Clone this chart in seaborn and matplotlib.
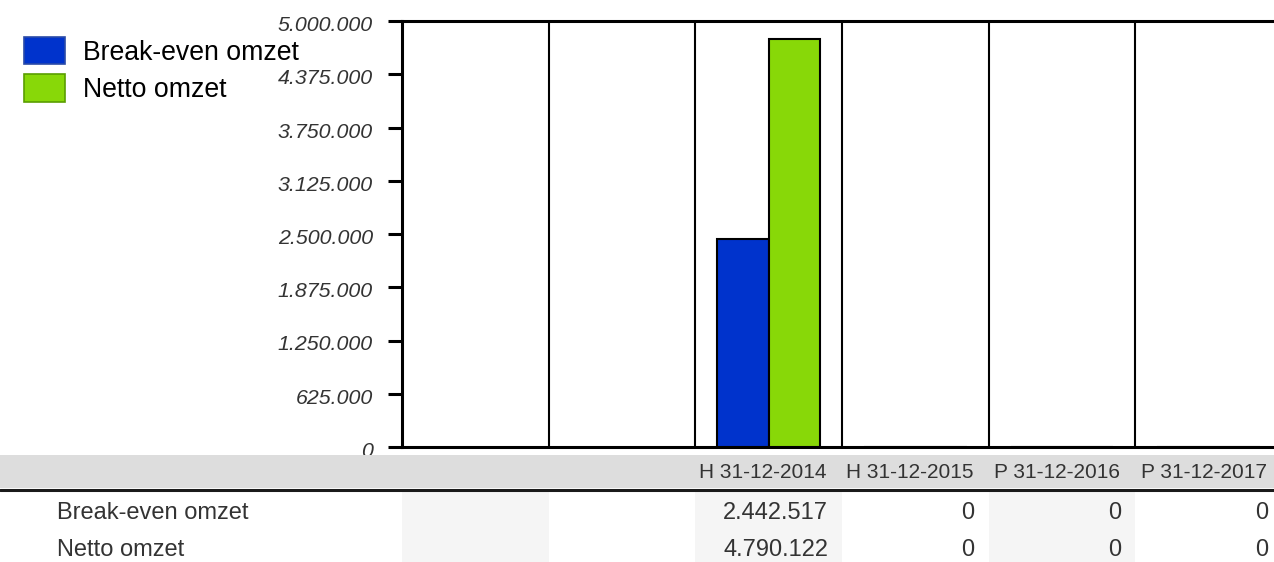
import numpy as np
import pandas as pd
import matplotlib
matplotlib.use("Agg")
import matplotlib.pyplot as plt
from matplotlib.patches import Rectangle
from matplotlib.lines import Line2D
import matplotlib.transforms as mtransforms
import seaborn as sns

# ---- data ----
categories = ["", " ", "H 31-12-2014", "H 31-12-2015", "P 31-12-2016", "P 31-12-2017"]
series_names = ["Break-even omzet", "Netto omzet"]
break_even = [np.nan, np.nan, 2442517, 0, 0, 0]
netto_omzet = [np.nan, np.nan, 4790122, 0, 0, 0]
y_ticks = [0, 625000, 1250000, 1875000, 2500000, 3125000, 3750000, 4375000, 5000000]
colors = ["#0033cc", "#88d808"]
legend_edges = ["#2a4aa8", "#5a9e00"]

def nl(v):
    return f"{v:,.0f}".replace(",", ".")

df = pd.DataFrame({
    "cat": categories * 2,
    "serie": [series_names[0]] * len(categories) + [series_names[1]] * len(categories),
    "val": break_even + netto_omzet,
})

sns.set_style("white")
plt.rcParams["font.family"] = ["Liberation Sans", "DejaVu Sans"]

W, H = 1274, 562
fig = plt.figure(figsize=(W / 100, H / 100), dpi=100)
fx = lambda px: px / W
fy = lambda py: 1 - py / H

ax = fig.add_axes([fx(402), fy(447), 880 / W, 426 / H])
sns.barplot(data=df.dropna(), x="cat", y="val", hue="serie", order=categories,
            hue_order=series_names, palette=colors, saturation=1, width=0.7,
            edgecolor="black", linewidth=1.5, ax=ax, legend=True, zorder=3)

ax.set_xlim(-0.5, len(categories) - 0.5)
ax.set_ylim(0, 5000000)
ax.set_yticks(y_ticks)
ax.set_yticklabels([nl(v) for v in y_ticks], fontstyle="italic", color="#333333", fontsize=15.4)
ax.tick_params(axis="y", length=10, width=2.2, color="black", pad=11, left=True)
ax.tick_params(axis="x", bottom=False, labelbottom=False)
shift = mtransforms.ScaledTranslation(0, -2.5 / 100, fig.dpi_scale_trans)
for lab in ax.get_yticklabels():
    lab.set_transform(lab.get_transform() + shift)
ax.set_xlabel("")
ax.set_ylabel("")
for s in ["left", "top", "bottom"]:
    ax.spines[s].set_visible(True)
    ax.spines[s].set_color("black")
    ax.spines[s].set_linewidth(2.2)
ax.spines["right"].set_visible(False)
for i in range(1, len(categories) + 1):
    ax.axvline(i - 0.5, color="black", lw=1.5, zorder=2)

# legend
leg = ax.legend(loc="upper left", bbox_to_anchor=(fx(24), fy(37)), bbox_transform=fig.transFigure,
                frameon=False, fontsize=19.2, handlelength=1.55, handleheight=1.2,
                handletextpad=0.66, labelspacing=0.32, borderaxespad=0, borderpad=0)
for h, ec in zip(leg.legend_handles, legend_edges):
    h.set_edgecolor(ec)
    h.set_linewidth(1.2)
for t in leg.get_texts():
    t.set_color("black")

# ---- table below ----
blend = mtransforms.blended_transform_factory(ax.transData, fig.transFigure)
for i in range(len(categories)):
    if i % 2 == 0:
        fig.add_artist(Rectangle((i - 0.5, fy(562)), 1, fy(491) - fy(562), transform=blend,
                                 facecolor="#f5f5f5", edgecolor="none", zorder=0.5))
fig.add_artist(Rectangle((0, fy(488)), 1, fy(455) - fy(488), transform=fig.transFigure,
                         facecolor="#dddddd", edgecolor="none", zorder=1))
fig.add_artist(Line2D([0, 1], [fy(489.5), fy(489.5)], transform=fig.transFigure,
                      color="#1a1a1a", lw=2.2, zorder=1.1))

for i, c in enumerate(categories):
    fig.text(i + 0.5 - 0.105, fy(472), c.strip(), transform=blend, ha="right", va="center",
             fontsize=15, color="#333333", zorder=2)

rows = [(series_names[0], break_even, 513), (series_names[1], netto_omzet, 550)]
for name, vals, yy in rows:
    fig.text(fx(57), fy(yy), name, ha="left", va="center", fontsize=17, color="#333333", zorder=2)
    for i, v in enumerate(vals):
        if not np.isnan(v):
            fig.text(i + 0.5 - 0.095, fy(yy), nl(v), transform=blend, ha="right", va="center",
                     fontsize=17, color="#333333", zorder=2)

fig.savefig("out.png", dpi=100)
